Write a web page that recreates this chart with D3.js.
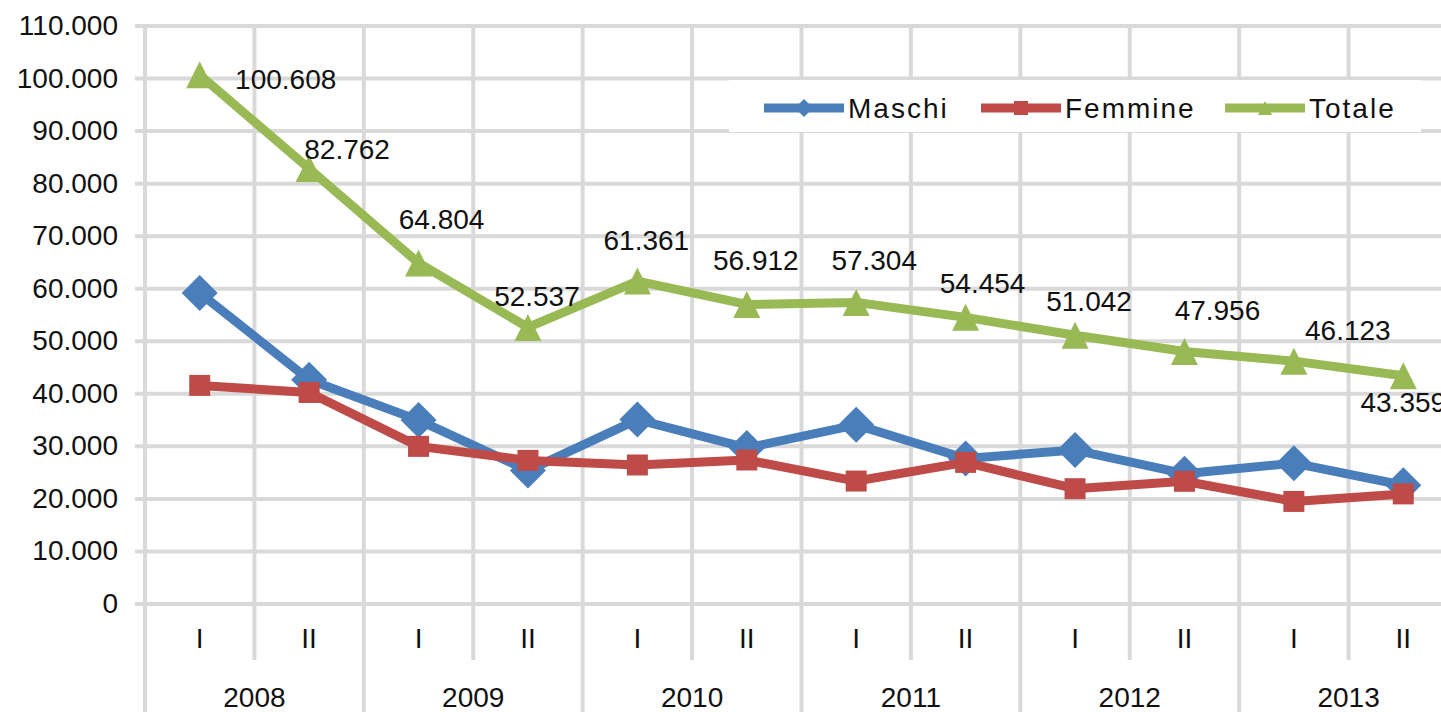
<!DOCTYPE html>
<html>
<head>
    <title>Maschi, Femmine, Totale per semestre 2008-2013</title>
    <script src="https://d3js.org/d3.v7.min.js"></script>
    <style>
        body { margin: 0; background: #fff; }
        text { font-family: "Liberation Sans", Arial, sans-serif; fill: #111; }
        .grid line { stroke: #d9d9d9; stroke-width: 4; }
    </style>
</head>
<body>
    <svg width="1441" height="712"></svg>
    <script>
        // data
        var years = ["2008", "2009", "2010", "2011", "2012", "2013"];
        var halves = ["I", "II"];
        var maschi  = [59100, 42600, 34900, 25300, 35000, 29600, 34000, 27600, 29200, 24700, 26700, 22500];
        var femmine = [41508, 40162, 29904, 27237, 26361, 27312, 23304, 26854, 21842, 23256, 19423, 20859];
        var totale  = [100608, 82762, 64804, 52537, 61361, 56912, 57304, 54454, 51042, 47956, 46123, 43359];
        var yTicks = [0, 10000, 20000, 30000, 40000, 50000, 60000, 70000, 80000, 90000, 100000, 110000];
        // hand placed data labels (offset from point, px)
        var labelOffset = [[86, 4], [38, -19], [23, -44], [9, -31], [9, -41], [9, -44],
                           [18, -42], [17, -34], [14, -34], [33, -41], [54, -31], [0, 27]];

        var svg = d3.select("svg");
        var plotLeft = 145, plotRight = 1458, plotTop = 25.5, plotBottom = 603.5;

        var idx = d3.range(years.length * halves.length);
        var x = d3.scalePoint().domain(idx).range([plotLeft, plotRight]).padding(0.5);
        var y = d3.scaleLinear().domain([0, 110000]).range([plotBottom, plotTop]);
        var step = x.step();
        var fmt = function(d) { return d3.format(",")(d).replace(/,/g, "."); };

        // horizontal grid + y labels
        svg.append("g")
           .attr("class", "grid")
           .attr("transform", "translate(135,0)")
           .call(d3.axisLeft(y)
                .tickValues(yTicks)
                .tickSizeInner(-(plotRight - 135))
                .tickSizeOuter(0)
                .tickPadding(17)
                .tickFormat(fmt))
           .call(function(g) {
               g.select(".domain").remove();
               g.selectAll("text").attr("font-size", 28).attr("font-family", "Liberation Sans, Arial, sans-serif").attr("fill", "#111");
           });

        // vertical grid lines, year boundaries run to the bottom
        svg.append("g").attr("class", "grid")
           .selectAll("line")
           .data(d3.range(idx.length + 1))
           .enter().append("line")
           .attr("x1", function(i) { return plotLeft + i * step; })
           .attr("x2", function(i) { return plotLeft + i * step; })
           .attr("y1", plotTop)
           .attr("y2", function(i) { return i % 2 === 0 ? 712 : 660; });

        // category labels
        svg.append("g").selectAll("text")
           .data(idx)
           .enter().append("text")
           .attr("x", function(i) { return x(i); })
           .attr("y", 648)
           .attr("text-anchor", "middle")
           .attr("font-size", 28)
           .text(function(i) { return halves[i % 2]; });

        svg.append("g").selectAll("text")
           .data(years)
           .enter().append("text")
           .attr("x", function(d, i) { return (x(i * 2) + x(i * 2 + 1)) / 2; })
           .attr("y", 707)
           .attr("text-anchor", "middle")
           .attr("font-size", 28)
           .text(function(d) { return d; });

        var series = [
            {name: "Maschi", values: maschi, color: "#4a7ebb", marker: "diamond"},
            {name: "Femmine", values: femmine, color: "#be4b48", marker: "square"},
            {name: "Totale", values: totale, color: "#98b954", marker: "triangle"}
        ];

        function markerPath(type, s) {
            if (type === "diamond") return "M0," + (-s) + "L" + s + ",0L0," + s + "L" + (-s) + ",0Z";
            if (type === "square") return "M" + (-s) + "," + (-s) + "h" + (2 * s) + "v" + (2 * s) + "h" + (-2 * s) + "Z";
            return "M0," + (-s) + "L" + s + "," + s + "L" + (-s) + "," + s + "Z";
        }
        var markerSize = {diamond: 18, square: 10.5, triangle: 13.5};

        var line = d3.line()
            .x(function(d, i) { return x(i); })
            .y(function(d) { return y(d); });

        series.forEach(function(s) {
            var g = svg.append("g");
            g.append("path")
             .datum(s.values)
             .attr("fill", "none")
             .attr("stroke", s.color)
             .attr("stroke-width", 9)
             .attr("stroke-linejoin", "round")
             .attr("d", line);
            g.selectAll(".mk")
             .data(s.values)
             .enter().append("path")
             .attr("class", "mk")
             .attr("fill", s.color)
             .attr("transform", function(d, i) { return "translate(" + x(i) + "," + y(d) + ")"; })
             .attr("d", markerPath(s.marker, markerSize[s.marker]));
        });

        // data labels on Totale
        svg.append("g").selectAll("text")
           .data(totale)
           .enter().append("text")
           .attr("x", function(d, i) { return x(i) + labelOffset[i][0]; })
           .attr("y", function(d, i) { return y(d) + labelOffset[i][1]; })
           .attr("dy", "0.35em")
           .attr("text-anchor", "middle")
           .attr("font-size", 28)
           .text(fmt);

        // legend
        var legend = svg.append("g");
        legend.append("rect")
              .attr("x", 729).attr("y", 80)
              .attr("width", 692).attr("height", 52)
              .attr("fill", "#fff");
        var legendX = [764, 981, 1225];
        series.forEach(function(s, i) {
            var lg = legend.append("g").attr("transform", "translate(" + legendX[i] + ",108)");
            lg.append("line")
              .attr("x1", 0).attr("x2", 80)
              .attr("stroke", s.color)
              .attr("stroke-width", 9);
            lg.append("path")
              .attr("transform", "translate(40,0)")
              .attr("fill", s.color)
              .attr("d", markerPath(s.marker, s.marker === "diamond" ? 9 : 7));
            lg.append("text")
              .attr("x", 84)
              .attr("dy", "0.35em")
              .attr("font-size", 28)
              .attr("letter-spacing", 2)
              .text(s.name);
        });
    </script>
</body>
</html>
